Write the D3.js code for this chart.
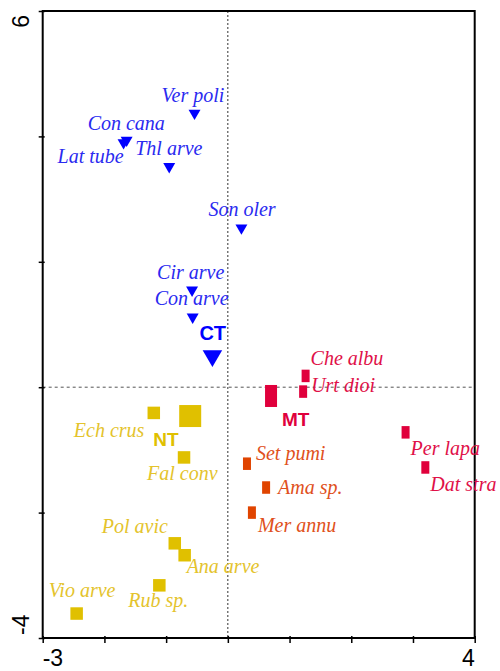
<!DOCTYPE html>
<html>
<head>
<meta charset="utf-8">
<script src="https://cdn.jsdelivr.net/npm/d3@7"></script>
<style>
  html, body { margin: 0; padding: 0; background: #fff; }
  svg { display: block; }
  .sp { font-family: "Liberation Serif", "Times New Roman", serif; font-style: italic; font-size: 20px; }
  .tr { font-family: "Liberation Sans", Arial, sans-serif; font-weight: bold; font-size: 19px; }
  .tick-label { font-family: "Liberation Sans", Arial, sans-serif; font-size: 23px; fill: #000; }
</style>
</head>
<body>
<div id="chart"></div>
<script>
// axis ticks
const xTicks = [-3, -2, -1, 0, 1, 2, 3, 4];
const yTicks = [-4, -2, 0, 2, 4, 6];
const xTickLabels = [-3, 4];
const yTickLabels = [-4, 6];

// species scores, conventional tillage group (blue)
const ctSpecies = ["Ver poli", "Con cana", "Lat tube", "Thl arve", "Son oler", "Cir arve", "Con arve"];
const ctAxis1 = [-0.54, -1.64, -1.69, -0.95, 0.22, -0.58, -0.57];
const ctAxis2 = [4.37, 3.94, 3.90, 3.52, 2.54, 1.55, 1.12];

// minimum tillage group (crimson)
const mtSpecies = ["Che albu", "Urt dioi", "Per lapa", "Dat stra"];
const mtAxis1 = [1.26, 1.22, 2.88, 3.20];
const mtAxis2 = [0.18, -0.07, -0.72, -1.28];

// minimum tillage, second group (orange)
const mt2Species = ["Set pumi", "Ama sp.", "Mer annu"];
const mt2Axis1 = [0.31, 0.62, 0.39];
const mt2Axis2 = [-1.22, -1.60, -2.00];

// no tillage group (yellow)
const ntSpecies = ["Ech crus", "Fal conv", "Pol avic", "Ana arve", "Rub sp.", "Vio arve"];
const ntAxis1 = [-1.20, -0.71, -0.86, -0.70, -1.11, -2.45];
const ntAxis2 = [-0.41, -1.12, -2.49, -2.68, -3.16, -3.61];

// treatment centroids
const treatments = ["CT", "MT", "NT"];
const treatAxis1 = [-0.25, 0.70, -0.61];
const treatAxis2 = [0.50, -0.14, -0.46];

// label placement (pixel offsets from the marker)
const labelOffset = {
  "Ver poli": [-33, -11], "Con cana": [-39, -10], "Lat tube": [-66, 20], "Thl arve": [-34, -11],
  "Son oler": [-33, -12], "Cir arve": [-35, -11], "Con arve": [-38, -12],
  "Che albu": [5, -11], "Urt dioi": [8, 0], "Per lapa": [5, 23], "Dat stra": [5, 24],
  "Set pumi": [9, -4], "Ama sp.": [12, 6], "Mer annu": [6, 19],
  "Ech crus": [-80, 24], "Fal conv": [-37, 23], "Pol avic": [-73, -10], "Ana arve": [2, 18],
  "Rub sp.": [-31, 22], "Vio arve": [-28, -17],
  "CT": [-13, -16], "MT": [11, 30], "NT": [-37, 30]
};

const W = 500, H = 671;
const x = d3.scaleLinear().domain([-3, 4]).range([42.7, 474.7]);
const y = d3.scaleLinear().domain([-4, 6]).range([638, 11]);

const svg = d3.select("#chart").append("svg")
  .attr("width", W).attr("height", H);

// zero lines
svg.append("line")
  .attr("x1", x(0)).attr("x2", x(0)).attr("y1", y(6)).attr("y2", y(-4))
  .attr("stroke", "#333").attr("stroke-width", 1).attr("stroke-dasharray", "2,2");
svg.append("line")
  .attr("x1", x(-3)).attr("x2", x(4)).attr("y1", y(0)).attr("y2", y(0))
  .attr("stroke", "#555").attr("stroke-width", 1).attr("stroke-dasharray", "3,3");

// axes (ticks only)
const gx = svg.append("g").attr("transform", `translate(0,${y(-4)})`)
  .call(d3.axisBottom(x).tickValues(xTicks).tickSize(5).tickSizeOuter(0).tickFormat(""));
const gy = svg.append("g").attr("transform", `translate(${x(-3)},0)`)
  .call(d3.axisLeft(y).tickValues(yTicks).tickSize(4).tickSizeOuter(0).tickFormat(""));
gx.select(".domain").remove();
gy.select(".domain").remove();
gx.selectAll(".tick line").attr("y1", -2).attr("stroke", "#000").attr("stroke-width", 1.5);
gy.selectAll(".tick line").attr("x1", 2).attr("stroke", "#000").attr("stroke-width", 1.5);

// frame
svg.append("rect")
  .attr("x", x(-3)).attr("y", y(6))
  .attr("width", x(4) - x(-3)).attr("height", y(-4) - y(6))
  .attr("fill", "none").attr("stroke", "#000").attr("stroke-width", 2);

// tick labels
svg.selectAll(".xl").data(xTickLabels).enter().append("text")
  .attr("class", "tick-label")
  .attr("x", d => x(d)).attr("y", 666)
  .attr("text-anchor", (d, i) => i === 0 ? "start" : "end")
  .text(d => d);
svg.selectAll(".yl").data(yTickLabels).enter().append("text")
  .attr("class", "tick-label")
  .attr("transform", d => `translate(29,${d > 0 ? y(d) + 4 : y(d) - 3}) rotate(-90)`)
  .attr("text-anchor", d => d > 0 ? "end" : "start")
  .text(d => d);

function zip(names, a1, a2) {
  return names.map((n, i) => ({ name: n, x: a1[i], y: a2[i] }));
}

function drawLabels(data, color, cls) {
  svg.append("g").selectAll("text").data(data).enter().append("text")
    .attr("class", cls)
    .attr("x", d => x(d.x) + labelOffset[d.name][0])
    .attr("y", d => y(d.y) + labelOffset[d.name][1])
    .attr("fill", color)
    .text(d => d.name);
}

const blue = "#0000ff", blueTxt = "#2a2af0";
const red = "#e0003c", redTxt = "#e01048";
const orange = "#e04400", orangeTxt = "#e05020";
const yellow = "#e0c000", yellowTxt = "#e4c32c";

// triangles (CT)
const ctData = zip(ctSpecies, ctAxis1, ctAxis2);
const tri = d3.symbol().type(d3.symbolTriangle);
svg.append("g").selectAll("path").data(ctData).enter().append("path")
  .attr("d", tri.size(62)())
  .attr("transform", d => `translate(${x(d.x)},${y(d.y)}) rotate(180)`)
  .attr("fill", blue);

// rectangles (MT)
const mtData = zip(mtSpecies, mtAxis1, mtAxis2);
const mt2Data = zip(mt2Species, mt2Axis1, mt2Axis2);
function drawRects(data, w, h, color) {
  svg.append("g").selectAll("rect").data(data).enter().append("rect")
    .attr("x", d => x(d.x) - w / 2).attr("y", d => y(d.y) - h / 2)
    .attr("width", w).attr("height", h).attr("fill", color);
}
drawRects(mtData, 8, 12.5, red);
drawRects(mt2Data, 8, 12.5, orange);

// squares (NT)
const ntData = zip(ntSpecies, ntAxis1, ntAxis2);
drawRects(ntData, 12.5, 12.5, yellow);

// treatment centroids
const trData = zip(treatments, treatAxis1, treatAxis2);
svg.append("path")
  .attr("d", tri.size(165)())
  .attr("transform", `translate(${x(trData[0].x)},${y(trData[0].y)}) rotate(180)`)
  .attr("fill", blue);
drawRects([trData[1]], 12, 22, red);
drawRects([trData[2]], 22, 22, yellow);

drawLabels(ctData, blueTxt, "sp");
drawLabels(mtData, redTxt, "sp");
drawLabels(mt2Data, orangeTxt, "sp");
drawLabels(ntData, yellowTxt, "sp");
drawLabels([trData[0]], blue, "tr");
drawLabels([trData[1]], red, "tr");
drawLabels([trData[2]], yellow, "tr");
svg.select(".tr").style("font-size", "20px");
</script>
</body>
</html>
